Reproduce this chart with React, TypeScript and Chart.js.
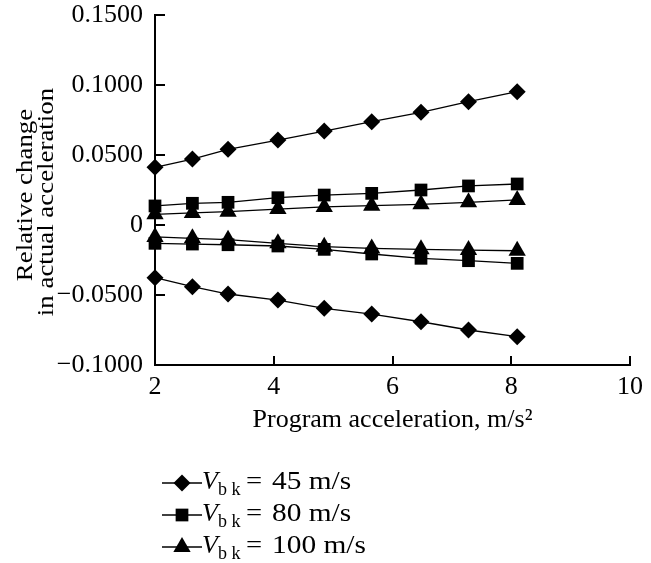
import React, { useEffect, useRef } from 'react';
import { Chart, registerables } from 'chart.js';

Chart.register(...registerables);

// Program acceleration, m/s^2
const xValues = [2.0, 2.63, 3.23, 4.07, 4.85, 5.65, 6.48, 7.28, 8.1];

// Relative change in actual acceleration
const v45Upper = [0.0412, 0.0471, 0.0541, 0.0607, 0.0671, 0.0738, 0.0805, 0.0881, 0.0952];
const v45Lower = [-0.0376, -0.0441, -0.0493, -0.0536, -0.0595, -0.0636, -0.0691, -0.075, -0.0798];
const v80Upper = [0.0136, 0.0155, 0.0162, 0.0195, 0.0214, 0.0226, 0.025, 0.0279, 0.0293];
const v80Lower = [-0.0131, -0.0136, -0.0141, -0.015, -0.0174, -0.0207, -0.0238, -0.0255, -0.0274];
const v100Upper = [0.0076, 0.0086, 0.0095, 0.0114, 0.0129, 0.0138, 0.0148, 0.0162, 0.0179];
const v100Lower = [-0.0085, -0.0095, -0.0105, -0.0131, -0.0155, -0.0167, -0.0174, -0.0179, -0.0184];

const yTickValues = [0.15, 0.1, 0.05, 0, -0.05, -0.1];
const yTickLabels = ['0.1500', '0.1000', '0.0500', '0', '\u22120.0500', '\u22120.1000'];
const xTickValues = [2, 4, 6, 8, 10];
const xTickLabels = ['2', '4', '6', '8', '10'];

const legendSpeeds = ['45', '80', '100'];
const legendMarkers = ['rectRot', 'rect', 'triangle'];

const yTitle = ['Relative change', 'in actual acceleration'];
const xTitle = 'Program acceleration, m/s\u00B2';

const FONT = "'Liberation Serif', 'DejaVu Serif', serif";

function drawMarker(ctx: CanvasRenderingContext2D, style: string, x: number, y: number, r: number) {
  ctx.beginPath();
  if (style === 'rectRot') {
    ctx.moveTo(x - r, y);
    ctx.lineTo(x, y - r);
    ctx.lineTo(x + r, y);
    ctx.lineTo(x, y + r);
  } else if (style === 'rect') {
    const s = r * Math.SQRT1_2;
    ctx.rect(x - s, y - s, 2 * s, 2 * s);
  } else {
    const h = (Math.sqrt(3) / 2) * r;
    ctx.moveTo(x, y - r);
    ctx.lineTo(x + h, y + r / 2);
    ctx.lineTo(x - h, y + r / 2);
  }
  ctx.closePath();
  ctx.fill();
}

const inwardTicks = {
  id: 'inwardTicks',
  afterDraw(chart: any) {
    const { ctx, chartArea, scales } = chart;
    ctx.save();
    ctx.strokeStyle = '#000';
    ctx.lineWidth = 2;
    ctx.beginPath();
    yTickValues.forEach((v) => {
      const y = Math.round(scales.y.getPixelForValue(v));
      ctx.moveTo(chartArea.left, y);
      ctx.lineTo(chartArea.left + 10, y);
    });
    xTickValues.forEach((v) => {
      const x = Math.round(scales.x.getPixelForValue(v));
      ctx.moveTo(x, chartArea.bottom);
      ctx.lineTo(x, chartArea.bottom - 9);
    });
    ctx.stroke();
    ctx.restore();
  },
};

const yTitlePlugin = {
  id: 'yTitlePlugin',
  afterDraw(chart: any) {
    const { ctx, chartArea } = chart;
    const cy = (chartArea.top + chartArea.bottom) / 2;
    ctx.save();
    ctx.fillStyle = '#000';
    ctx.font = `24px ${FONT}`;
    ctx.textAlign = 'center';
    ctx.textBaseline = 'middle';
    const xs = [26, 47];
    const dy = [5, 12];
    yTitle.forEach((line, i) => {
      ctx.save();
      ctx.translate(xs[i], cy + dy[i]);
      ctx.rotate(-Math.PI / 2);
      ctx.scale(1.12, 1);
      ctx.fillText(line, 0, 0);
      ctx.restore();
    });
    ctx.restore();
  },
};

const customLegend = {
  id: 'customLegend',
  afterDraw(chart: any) {
    const { ctx } = chart;
    ctx.save();
    ctx.fillStyle = '#000';
    ctx.strokeStyle = '#000';
    const baselines = [489, 521, 553];
    const radii = [8.5, 9, 10];
    legendSpeeds.forEach((sp, i) => {
      const base = baselines[i];
      const my = base - 6;
      ctx.lineWidth = 1.5;
      ctx.beginPath();
      ctx.moveTo(162, my);
      ctx.lineTo(202, my);
      ctx.stroke();
      drawMarker(ctx, legendMarkers[i], 182, my, radii[i]);
      ctx.textBaseline = 'alphabetic';
      ctx.textAlign = 'left';
      ctx.font = `italic 26px ${FONT}`;
      ctx.fillText('V', 202, base);
      ctx.font = `18px ${FONT}`;
      ctx.fillText('b k', 218, base + 6);
      ctx.font = `26px ${FONT}`;
      ctx.save();
      ctx.translate(246, base);
      ctx.scale(1.1, 1);
      ctx.fillText('=', 0, 0);
      ctx.restore();
      ctx.save();
      ctx.translate(272, base);
      ctx.scale(1.13, 1);
      ctx.fillText(`${sp} m/s`, 0, 0);
      ctx.restore();
    });
    ctx.restore();
  },
};

function makeDataset(values: number[], style: string, radius: number) {
  return {
    data: xValues.map((x, i) => ({ x, y: values[i] })),
    showLine: true,
    borderColor: '#000',
    borderWidth: 1.3,
    pointStyle: style,
    pointRadius: radius,
    pointHoverRadius: radius,
    pointBackgroundColor: '#000',
    pointBorderColor: '#000',
    pointBorderWidth: 0,
    clip: false as any,
  };
}

export default function App() {
  const ref = useRef<HTMLCanvasElement>(null);

  useEffect(() => {
    if (!ref.current) return;
    const chart = new Chart(ref.current, {
      type: 'scatter',
      data: {
        datasets: [
          makeDataset(v45Upper, 'rectRot', 8.5),
          makeDataset(v45Lower, 'rectRot', 8.5),
          makeDataset(v80Upper, 'rect', 9),
          makeDataset(v80Lower, 'rect', 9),
          makeDataset(v100Upper, 'triangle', 10),
          makeDataset(v100Lower, 'triangle', 10),
        ],
      },
      options: {
        responsive: false,
        animation: false,
        devicePixelRatio: 1,
        layout: { padding: { left: 0, right: 21, top: 15, bottom: 123 } },
        plugins: {
          legend: { display: false },
          tooltip: { enabled: false },
        },
        scales: {
          x: {
            type: 'linear',
            min: 2,
            max: 10,
            afterBuildTicks: (scale: any) => {
              scale.ticks = xTickValues.map((v) => ({ value: v }));
            },
            afterFit: (scale: any) => {
              scale.height = 75;
              scale.paddingLeft = 0;
              scale.paddingRight = 0;
            },
            grid: { display: false, drawTicks: false },
            border: { display: true, color: '#000', width: 2 },
            ticks: {
              color: '#000',
              padding: 7,
              maxRotation: 0,
              font: { family: FONT, size: 26 },
              callback: (v: any) => {
                const i = xTickValues.findIndex((t) => Math.abs(t - Number(v)) < 1e-9);
                return i >= 0 ? xTickLabels[i] : '';
              },
            },
            title: {
              display: true,
              text: xTitle,
              color: '#000',
              font: { family: FONT, size: 26 },
              padding: { top: 0, bottom: 4 },
            },
          },
          y: {
            type: 'linear',
            min: -0.1,
            max: 0.15,
            afterBuildTicks: (scale: any) => {
              scale.ticks = yTickValues.map((v) => ({ value: v }));
            },
            afterFit: (scale: any) => {
              scale.width = 155;
              scale.paddingTop = 0;
              scale.paddingBottom = 0;
            },
            grid: { display: false, drawTicks: false },
            border: { display: true, color: '#000', width: 2 },
            ticks: {
              color: '#000',
              padding: 12,
              font: { family: FONT, size: 26 },
              callback: (v: any) => {
                const i = yTickValues.findIndex((t) => Math.abs(t - Number(v)) < 1e-9);
                return i >= 0 ? yTickLabels[i] : '';
              },
            },
            title: { display: false },
          },
        },
      },
      plugins: [inwardTicks, yTitlePlugin, customLegend],
    });
    return () => chart.destroy();
  }, []);

  return (
    <canvas
      ref={ref}
      width={651}
      height={563}
      style={{ position: 'fixed', left: 0, top: 0, width: 651, height: 563 }}
    />
  );
}
